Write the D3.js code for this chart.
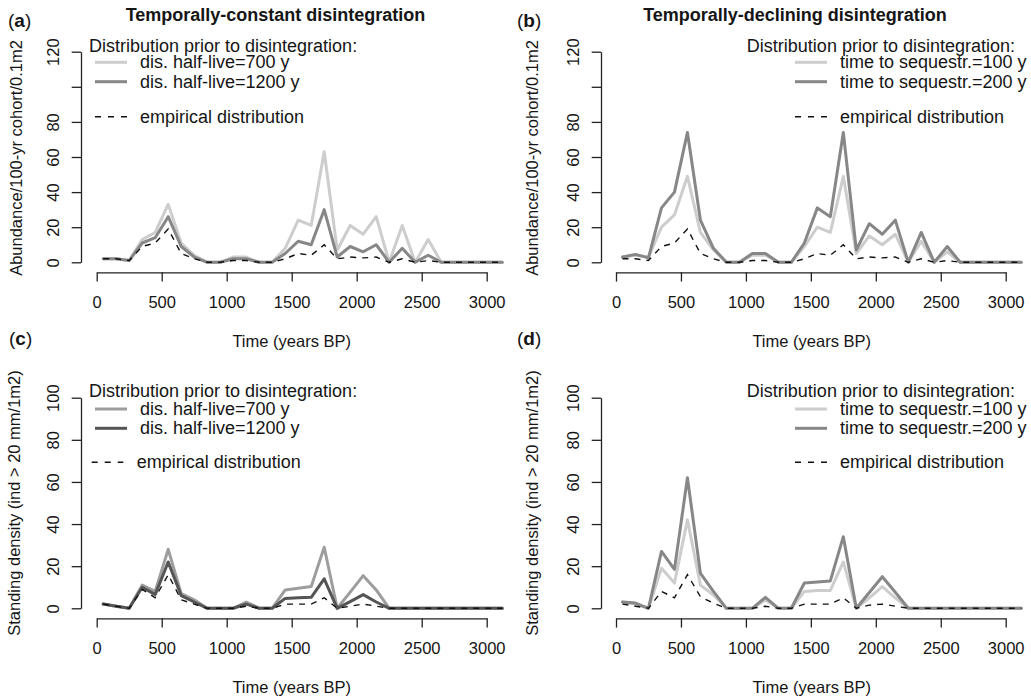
<!DOCTYPE html>
<html><head><meta charset="utf-8">
<script src="https://cdn.jsdelivr.net/npm/d3@7"></script>
<style>
html,body{margin:0;padding:0;background:#fff;}
svg{display:block;font-family:"Liberation Sans",Arial,Helvetica,sans-serif;}
</style></head><body>
<svg id="chart" width="1031" height="697"></svg>
<script>
// ---------- data ----------
const times = [50,150,250,350,450,550,650,750,850,950,1050,1150,1250,1350,1450,1550,1650,1750,1850,1950,2050,2150,2250,2350,2450,2550,2650,2750,2850,2950,3050,3120];
const xTicks = [0,500,1000,1500,2000,2500,3000];
const yTicksAbund = [0,20,40,60,80,100,120];
const yTickLabelsAbund = ["0","20","40","60","80","","120"];
const yTicksDens = [0,20,40,60,80,100];
const yTickLabelsDens = ["0","20","40","60","80","100"];

// (a) temporally-constant disintegration, abundance
const abundHalf700  = [2,2,1,13,17,33,11,4,0,0,3,3,0,0,8,24,21,63,7,21,16,26,0,21,0,13,0,0,0,0,0,0];
const abundHalf1200 = [2,2,1,11,14,26,9,3,0,0,2,2,0,0,5,12,10,30,3,9,6,10,0,8,0,4,0,0,0,0,0,0];
// empirical abundance (a, b)
const abundEmpirical = [2,2,1,9,11,19,5,2,0,0,1,1,0,0,2,5,4,10,2,3,2.5,3,0,2,0,1,0,0,0,0,0,0];
// (b) temporally-declining disintegration, abundance
const abundSeq100 = [3,4,3,20,27,49,17,7,0,0,4,4,0,0,9,20,17,49,5,15,10,16,0,12,0,6,0,0,0,0,0,0];
const abundSeq200 = [3,4.5,2.5,31,40,74,24,8,0,0,5,5,0,0,11,31,26,74,7,22,16,24,0,17,0,9,0,0,0,0,0,0];
// (c) temporally-constant disintegration, standing density
const densHalf700  = [2,1,0,11,8,28,7,4,0,0,0,3,0,0,8.7,9.5,10.3,29,0,7.7,15.5,8.7,0,0,0,0,0,0,0,0,0,0];
const densHalf1200 = [2,1,0,10,6.5,22,6,3,0,0,0,2,0,0,4.7,5,5.2,14,0,3.2,6.5,3,0,0,0,0,0,0,0,0,0,0];
const densEmpiricalC = [2,1,0,9,5,16,4,2,0,0,0,1,0,0,2,2,2,5,0,1,2,1,0,0,0,0,0,0,0,0,0,0];
// (d) temporally-declining disintegration, standing density
const densSeq100 = [3,2,0,19,12,42,11,6.3,0,0,0,4,0,0,8,8.5,8.5,22,0,5,10.3,5,0,0,0,0,0,0,0,0,0,0];
const densSeq200 = [3,2.5,0,27,18.5,62,16.6,8,0,0,0,5.2,0,0,12,12.5,13,34,0,7.5,15,7.6,0,0,0,0,0,0,0,0,0,0];
const densEmpiricalD = [2,1,0,8,5,16,5.5,2.4,0,0,0,1,0,0,2,2,2,5,0,1.5,2,1,0,0,0,0,0,0,0,0,0,0];

const panelTitles = ["Temporally-constant disintegration","Temporally-declining disintegration"];
const legendTitle = "Distribution prior to disintegration:";
const xTitle = "Time (years BP)";
const yTitleAbund = "Abundance/100-yr cohort/0.1m2";
const yTitleDens = "Standing density (ind > 20 mm/1m2)";

// ---------- styles ----------
const C_LIGHT = "#cdcdcd", C_MID = "#878787", C_CMID = "#9d9d9d", C_DARK = "#555555";
const TXT = "#151515", AX = "#222";

const svg = d3.select("#chart");

const panels = [
  {tag:"a", px0:96.7, px1:486.7, py0:262.3, pyTop:51.7, yMax:120, axX:81, axY:272.3,
   yTicks:yTicksAbund, yLabs:yTickLabelsAbund, yTitle:yTitleAbund, yTitleX:22, yTitleY:158,
   xTitleX:291.7, xTitleY:346.5, labX:8, labY:27,
   series:[{v:abundHalf700,c:C_LIGHT,lab:"dis. half-live=700 y"},{v:abundHalf1200,c:C_MID,lab:"dis. half-live=1200 y"}],
   emp:abundEmpirical,
   leg:{tx:89, ty:51.7, anchor:"start", lx1:95, lx2:127, etx:140, rows:[62.3,81.7], ely:116.7, elx1:95, elx2:127, eltx:140}},
  {tag:"b", px0:616, px1:1005.7, py0:262.3, pyTop:51.7, yMax:120, axX:601, axY:272.3,
   yTicks:yTicksAbund, yLabs:yTickLabelsAbund, yTitle:yTitleAbund, yTitleX:538, yTitleY:158,
   xTitleX:811.7, xTitleY:346.5, labX:517, labY:27,
   series:[{v:abundSeq100,c:C_LIGHT,lab:"time to sequestr.=100 y"},{v:abundSeq200,c:C_MID,lab:"time to sequestr.=200 y"}],
   emp:abundEmpirical,
   leg:{tx:1015, ty:51.7, anchor:"end", lx1:795, lx2:827, etx:840, rows:[62.3,81.7], ely:116.7, elx1:795, elx2:827, eltx:840}},
  {tag:"c", px0:96.7, px1:486.7, py0:608.3, pyTop:397.7, yMax:100, axX:81, axY:618.3,
   yTicks:yTicksDens, yLabs:yTickLabelsDens, yTitle:yTitleDens, yTitleX:20, yTitleY:503,
   xTitleX:291.7, xTitleY:692.5, labX:9, labY:345,
   series:[{v:densHalf700,c:C_CMID,lab:"dis. half-live=700 y"},{v:densHalf1200,c:C_DARK,lab:"dis. half-live=1200 y"}],
   emp:densEmpiricalC,
   leg:{tx:89, ty:396.5, anchor:"start", lx1:95, lx2:127, etx:140, rows:[409,428.3], ely:462.3, elx1:91.7, elx2:123.3, eltx:136.7}},
  {tag:"d", px0:616, px1:1005.7, py0:608.3, pyTop:397.7, yMax:100, axX:601, axY:618.3,
   yTicks:yTicksDens, yLabs:yTickLabelsDens, yTitle:yTitleDens, yTitleX:538, yTitleY:503,
   xTitleX:811.7, xTitleY:692.5, labX:517, labY:345,
   series:[{v:densSeq100,c:C_LIGHT,lab:"time to sequestr.=100 y"},{v:densSeq200,c:C_MID,lab:"time to sequestr.=200 y"}],
   emp:densEmpiricalD,
   leg:{tx:1015, ty:396.5, anchor:"end", lx1:795, lx2:827, etx:840, rows:[409,428.3], ely:462.3, elx1:795, elx2:827, eltx:840}}
];

// column titles
svg.append("text").attr("x",275.5).attr("y",21).attr("text-anchor","middle")
  .attr("font-size",18).attr("font-weight","bold").attr("fill",TXT).text(panelTitles[0]);
svg.append("text").attr("x",795).attr("y",21).attr("text-anchor","middle")
  .attr("font-size",18).attr("font-weight","bold").attr("fill",TXT).text(panelTitles[1]);

panels.forEach(p => {
  const g = svg.append("g");
  const x = d3.scaleLinear().domain([0,3000]).range([p.px0,p.px1]);
  const y = d3.scaleLinear().domain([0,p.yMax]).range([p.py0,p.pyTop]);

  // x axis
  const xa = g.append("g").attr("transform",`translate(0,${p.axY})`)
    .call(d3.axisBottom(x).tickValues(xTicks).tickFormat(d3.format("d")).tickSize(9.3).tickSizeOuter(0));
  xa.selectAll("text").attr("y",35.3).attr("dy",null).attr("font-size",16.5).attr("fill",TXT)
    .attr("font-family","Liberation Sans, Arial, sans-serif");
  // y axis
  const ya = g.append("g").attr("transform",`translate(${p.axX},0)`)
    .call(d3.axisLeft(y).tickValues(p.yTicks).tickFormat((d,i)=>p.yLabs[i]).tickSize(9.3).tickSizeOuter(0));
  ya.selectAll("text").attr("x",0).attr("dy",0).attr("text-anchor","middle")
    .attr("transform","translate(-22,0) rotate(-90)").attr("font-size",16.5).attr("fill",TXT)
    .attr("font-family","Liberation Sans, Arial, sans-serif");
  g.selectAll(".domain, .tick line").attr("stroke",AX).attr("stroke-width",1.3);

  // axis titles
  g.append("text").attr("x",p.xTitleX).attr("y",p.xTitleY).attr("text-anchor","middle")
    .attr("font-size",16.5).attr("fill",TXT).text(xTitle);
  g.append("text").attr("transform",`translate(${p.yTitleX},${p.yTitleY}) rotate(-90)`)
    .attr("text-anchor","middle").attr("font-size",16.5).attr("fill",TXT).text(p.yTitle);

  // panel label
  const lab = g.append("text").attr("x",p.labX).attr("y",p.labY).attr("font-size",19).attr("fill",TXT);
  lab.append("tspan").text("(");
  lab.append("tspan").attr("font-weight","bold").text(p.tag);
  lab.append("tspan").text(")");

  // lines
  const line = d3.line().x((d,i)=>x(times[i])).y(d=>y(d));
  p.series.forEach(s => {
    g.append("path").datum(s.v).attr("d",line).attr("fill","none")
      .attr("stroke",s.c).attr("stroke-width",3).attr("stroke-linejoin","round").attr("stroke-linecap","round");
  });
  g.append("path").datum(p.emp).attr("d",line).attr("fill","none")
    .attr("stroke","#111").attr("stroke-width",1.4).attr("stroke-dasharray","6,6");

  // legend
  const L = p.leg;
  g.append("text").attr("x",L.tx).attr("y",L.ty).attr("text-anchor",L.anchor)
    .attr("font-size",18).attr("fill",TXT).text(legendTitle);
  p.series.forEach((s,i) => {
    g.append("line").attr("x1",L.lx1).attr("x2",L.lx2).attr("y1",L.rows[i]).attr("y2",L.rows[i])
      .attr("stroke",s.c).attr("stroke-width",3);
    g.append("text").attr("x",L.etx).attr("y",L.rows[i]+5.8).attr("font-size",18).attr("fill",TXT).text(s.lab);
  });
  g.append("line").attr("x1",L.elx1).attr("x2",L.elx2).attr("y1",L.ely).attr("y2",L.ely)
    .attr("stroke","#111").attr("stroke-width",1.4).attr("stroke-dasharray","6,7");
  g.append("text").attr("x",L.eltx).attr("y",L.ely+5.8).attr("font-size",18).attr("fill",TXT).text("empirical distribution");
});
</script>
</body></html>
